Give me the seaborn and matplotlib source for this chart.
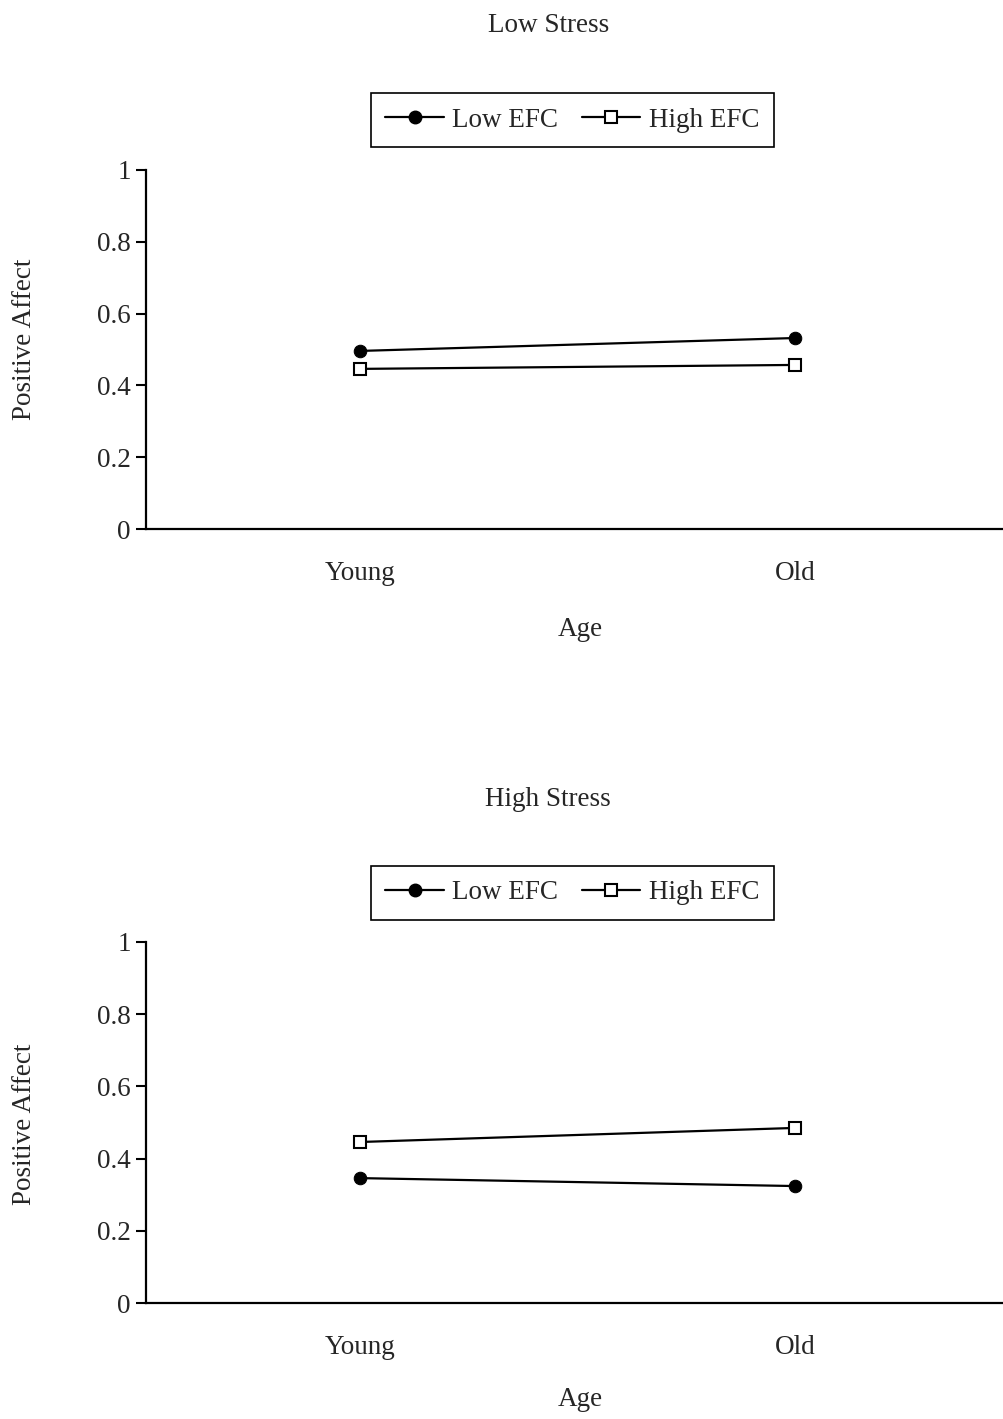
import matplotlib
matplotlib.use("Agg")
import matplotlib.pyplot as plt
import seaborn as sns
import pandas as pd
from matplotlib.lines import Line2D

ages = ["Young", "Old"]
groups = ["Low EFC", "High EFC"]
low_stress_low_efc = [0.496, 0.532]
low_stress_high_efc = [0.446, 0.457]
high_stress_low_efc = [0.346, 0.324]
high_stress_high_efc = [0.446, 0.485]
y_ticks = [0, 0.2, 0.4, 0.6, 0.8, 1]
y_tick_labels = ["0", "0.2", "0.4", "0.6", "0.8", "1"]
panel_titles = ["Low Stress", "High Stress"]

sns.set_theme(style="white")
plt.rcParams["font.family"] = ["Liberation Serif", "DejaVu Serif"]

FS = 19.5
fig = plt.figure(figsize=(10.04, 14.19), dpi=100)

panels = [
    (panel_titles[0], low_stress_low_efc, low_stress_high_efc,
     [0.1454, 0.6272, 0.8546, 0.2530], 0.982, 0.9154, 0.5567, 1 - 339 / 1419),
    (panel_titles[1], high_stress_low_efc, high_stress_high_efc,
     [0.1454, 0.0817, 0.8546, 0.2545], 0.4365, 0.3707, 0.0134, 1 - 1124 / 1419),
]

for title, low, high, rect, ty, ly, xly, yly in panels:
    ax = fig.add_axes(rect)
    df_low = pd.DataFrame({"Age": ages, "val": low})
    df_high = pd.DataFrame({"Age": ages, "val": high})
    sns.lineplot(data=df_low, x="Age", y="val", ax=ax, color="black", lw=1.6,
                 marker="o", markersize=9, markerfacecolor="black",
                 markeredgecolor="black", sort=False)
    sns.lineplot(data=df_high, x="Age", y="val", ax=ax, color="black", lw=1.6,
                 marker="s", markersize=8, markerfacecolor="white",
                 markeredgecolor="black", markeredgewidth=1.5, sort=False)
    ax.set_xlim(-0.492, 1.48)
    ax.set_ylim(0, 1)
    ax.set_yticks(y_ticks)
    ax.set_yticklabels(y_tick_labels, fontsize=FS)
    ax.set_xticks([0, 1])
    ax.set_xticklabels(ages, fontsize=FS)
    ax.tick_params(axis="x", length=0, pad=23)
    ax.tick_params(axis="y", length=7, width=1.5, color="black", pad=4,
                   direction="out", left=True)
    for s in ["top", "right"]:
        ax.spines[s].set_visible(False)
    for s in ["left", "bottom"]:
        ax.spines[s].set_color("black")
        ax.spines[s].set_linewidth(1.6)
    ax.set_xlabel("")
    ax.set_ylabel("")
    ax.grid(False)

    handles = [
        Line2D([], [], color="black", lw=1.6, marker="o", markersize=9,
               markerfacecolor="black"),
        Line2D([], [], color="black", lw=1.6, marker="s", markersize=8,
               markerfacecolor="white", markeredgewidth=1.5),
    ]
    leg = ax.legend(handles, groups, loc="center", ncol=2,
                    bbox_to_anchor=(0.570, ly), bbox_transform=fig.transFigure,
                    frameon=True, fancybox=False, framealpha=1, fontsize=FS,
                    handlelength=2.15, columnspacing=0.9, handletextpad=0.3,
                    borderpad=0.55, borderaxespad=0)
    leg.get_frame().set_edgecolor("black")
    leg.get_frame().set_linewidth(1.2)

    fig.text(0.546, ty, title, ha="center", va="center", fontsize=FS)
    fig.text(0.578, xly, "Age", ha="center", va="center", fontsize=FS)
    fig.text(0.024, yly, "Positive Affect", rotation=90,
             ha="center", va="center", fontsize=FS)

fig.savefig("out.png", dpi=100)
